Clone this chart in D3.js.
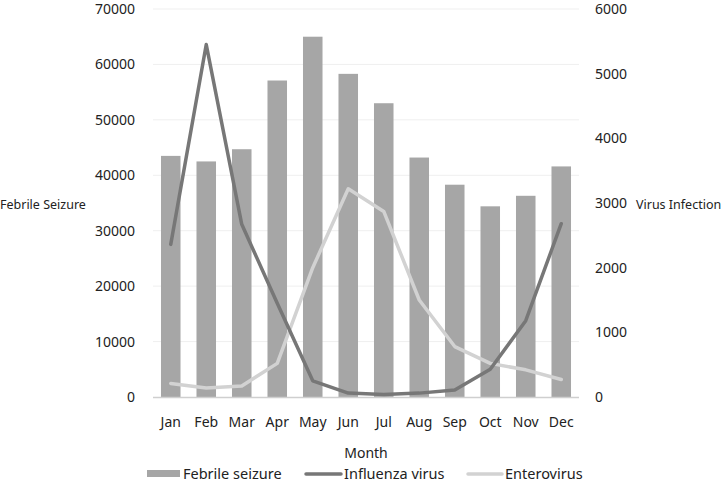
<!DOCTYPE html>
<html>
<head>
<meta charset="utf-8">
<script src="https://cdn.jsdelivr.net/npm/d3@7"></script>
<style>
  body { margin: 0; background: #fff; }
  svg text { font-family: "Noto Sans", sans-serif; fill: #222; }
</style>
</head>
<body>
<svg id="chart" width="722" height="488"></svg>
<script>
// data
const months = ["Jan", "Feb", "Mar", "Apr", "May", "Jun", "Jul", "Aug", "Sep", "Oct", "Nov", "Dec"];
const febrileSeizure = [43500, 42500, 44700, 57100, 65000, 58300, 53000, 43200, 38300, 34400, 36300, 41600];
const influenza = [2360, 5450, 2670, 1450, 250, 60, 40, 60, 110, 430, 1180, 2680];
const enterovirus = [210, 140, 170, 520, 2000, 3220, 2870, 1500, 780, 520, 420, 270];
const leftTicks = [0, 10000, 20000, 30000, 40000, 50000, 60000, 70000];
const rightTicks = [0, 1000, 2000, 3000, 4000, 5000, 6000];

const svg = d3.select("#chart");
const plotLeft = 153, plotRight = 579, plotTop = 9, plotBottom = 397;

const x = d3.scaleBand().domain(months).range([plotLeft, plotRight]).paddingInner(0.45).paddingOuter(0.225);
const yL = d3.scaleLinear().domain([0, 70000]).range([plotBottom, plotTop]);
const yR = d3.scaleLinear().domain([0, 6000]).range([plotBottom, plotTop]);

// grid lines
svg.append("g")
  .selectAll("line")
  .data(leftTicks.slice(1))
  .join("line")
  .attr("x1", plotLeft).attr("x2", plotRight)
  .attr("y1", d => yL(d)).attr("y2", d => yL(d))
  .attr("stroke", "#efefef").attr("stroke-width", 1);

// bars
svg.append("g")
  .selectAll("rect")
  .data(months)
  .join("rect")
  .attr("x", d => x(d))
  .attr("y", (d, i) => yL(febrileSeizure[i]))
  .attr("width", x.bandwidth())
  .attr("height", (d, i) => plotBottom - yL(febrileSeizure[i]))
  .attr("fill", "#a6a6a6");

// baseline
svg.append("line")
  .attr("x1", plotLeft).attr("x2", plotRight)
  .attr("y1", plotBottom + 0.5).attr("y2", plotBottom + 0.5)
  .attr("stroke", "#cfcfcf").attr("stroke-width", 1.5);

// lines
const line = arr => d3.line()
  .x((d, i) => x(months[i]) + x.bandwidth() / 2)
  .y(d => yR(d))(arr);

svg.append("path")
  .attr("d", line(enterovirus))
  .attr("fill", "none").attr("stroke", "#d2d2d2")
  .attr("stroke-width", 3.5).attr("stroke-linejoin", "round").attr("stroke-linecap", "round");

svg.append("path")
  .attr("d", line(influenza))
  .attr("fill", "none").attr("stroke", "#777777")
  .attr("stroke-width", 3.5).attr("stroke-linejoin", "round").attr("stroke-linecap", "round");

// left axis labels
const axL = svg.append("g")
  .attr("transform", `translate(${plotLeft - 18},0)`)
  .call(d3.axisLeft(yL).tickValues(leftTicks).tickSize(0).tickPadding(0).tickFormat(d3.format("d")));
axL.select(".domain").remove();
axL.selectAll("text").style("font-size", "14px").attr("fill", "#222");

// right axis labels
const axR = svg.append("g")
  .attr("transform", `translate(${plotRight + 16},0)`)
  .call(d3.axisRight(yR).tickValues(rightTicks).tickSize(0).tickPadding(0).tickFormat(d3.format("d")));
axR.select(".domain").remove();
axR.selectAll("text").style("font-size", "14px").attr("fill", "#222");

// x labels
const axX = svg.append("g")
  .attr("transform", `translate(0,${plotBottom + 20})`)
  .call(d3.axisBottom(x).tickSize(0).tickPadding(0));
axX.select(".domain").remove();
axX.selectAll("text").style("font-size", "14px").attr("fill", "#222");

// axis titles
svg.append("text").attr("x", 0).attr("y", 209)
  .style("font-size", "12.5px").text("Febrile Seizure");
svg.append("text").attr("x", 636).attr("y", 209)
  .style("font-size", "12.5px").text("Virus Infection");
svg.append("text").attr("x", 366).attr("y", 458).attr("text-anchor", "middle")
  .style("font-size", "14px").text("Month");

// legend
const lg = svg.append("g").attr("transform", "translate(0,474)");
lg.append("rect").attr("x", 147).attr("y", -4).attr("width", 33).attr("height", 7).attr("fill", "#a6a6a6");
lg.append("text").attr("x", 183).attr("y", 5).style("font-size", "14.5px").text("Febrile seizure");
lg.append("line").attr("x1", 306).attr("x2", 341).attr("y1", 0).attr("y2", 0)
  .attr("stroke", "#777777").attr("stroke-width", 3.5).attr("stroke-linecap", "round");
lg.append("text").attr("x", 344).attr("y", 5).style("font-size", "14.5px").text("Influenza virus");
lg.append("line").attr("x1", 468).attr("x2", 502).attr("y1", 0).attr("y2", 0)
  .attr("stroke", "#d2d2d2").attr("stroke-width", 3.5).attr("stroke-linecap", "round");
lg.append("text").attr("x", 505).attr("y", 5).style("font-size", "14.5px").text("Enterovirus");
</script>
</body>
</html>
